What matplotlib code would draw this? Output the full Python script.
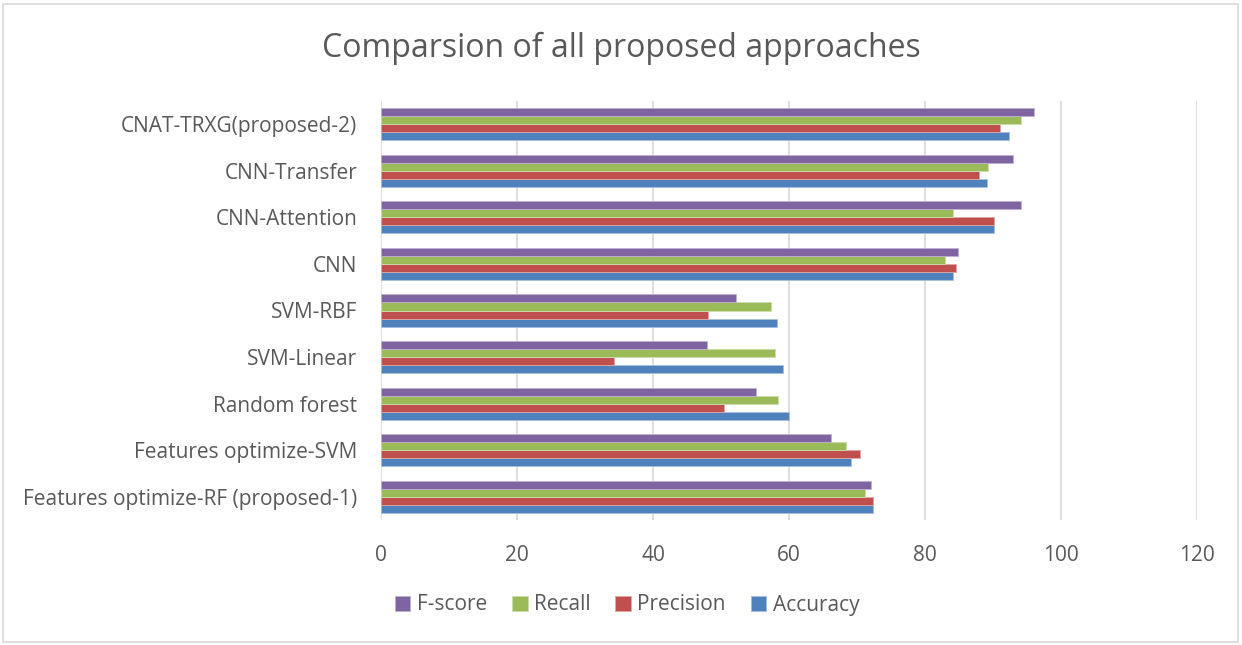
import numpy as np
import matplotlib
matplotlib.use("Agg")
import matplotlib.pyplot as plt
from matplotlib.patches import Rectangle

plt.rcParams['font.family'] = ['Open Sans', 'DejaVu Sans']

methods = ["Features optimize-RF (proposed-1)", "Features optimize-SVM", "Random forest",
           "SVM-Linear", "SVM-RBF", "CNN", "CNN-Attention", "CNN-Transfer",
           "CNAT-TRXG(proposed-2)"]
accuracy = [72.3, 69.1, 60.0, 59.1, 58.3, 84.1, 90.1, 89.1, 92.3]
precision = [72.4, 70.5, 50.4, 34.2, 48.1, 84.6, 90.2, 88.0, 91.1]
recall = [71.2, 68.4, 58.4, 58.0, 57.4, 82.9, 84.1, 89.3, 94.1]
fscore = [72.0, 66.2, 55.1, 48.0, 52.2, 84.9, 94.1, 93.0, 96.1]

series = [("Accuracy", accuracy, "#4F81BD", "#A7C0DE"),
          ("Precision", precision, "#C0504D", "#E0A8A6"),
          ("Recall", recall, "#9BBB59", "#CDDDAC"),
          ("F-score", fscore, "#8064A2", "#BFB1D0")]

text_col = "#595959"
fig = plt.figure(figsize=(12.42, 6.45), dpi=100)
ax = fig.add_axes([381 / 1242, 1 - 520 / 645, 816 / 1242, 419 / 645])

y = np.arange(len(methods))
h = 0.172
for i, (name, vals, col, edge) in enumerate(series):
    ax.barh(y + (i - 1.5) * h, vals, height=h, color=col, edgecolor=edge,
            linewidth=0.6, label=name, zorder=3)

ax.set_xlim(0, 120)
ax.set_ylim(-0.5, len(methods) - 0.5)
ax.set_xticks(range(0, 121, 20))
ax.set_yticks(y)
ax.set_yticklabels(methods)
ax.tick_params(axis='both', length=0, labelsize=15, colors=text_col)
ax.tick_params(axis='x', pad=18)
ax.tick_params(axis='y', pad=17)
ax.grid(axis='x', color="#D9D9D9", linewidth=1.2, zorder=0)
for s in ax.spines.values():
    s.set_visible(False)

fig.text(0.5, 1 - 48 / 645, "Comparsion of all proposed approaches", ha='center',
         va='center', fontsize=23, color=text_col)

handles, labels = ax.get_legend_handles_labels()
leg = fig.legend(handles[::-1], labels[::-1], loc='center', ncol=4,
                 bbox_to_anchor=(627 / 1242, 1 - 605 / 645), frameon=False,
                 fontsize=15, handlelength=0.75, handleheight=0.75,
                 handletextpad=0.3, columnspacing=1.2)
for t in leg.get_texts():
    t.set_color(text_col)

# chart outline
fig.patches.append(Rectangle((3 / 1242, 3 / 645), 1235 / 1242, 638 / 645,
                             transform=fig.transFigure, fill=False,
                             edgecolor="#D9D9D9", linewidth=1.2))

fig.savefig("out.png", dpi=100)
